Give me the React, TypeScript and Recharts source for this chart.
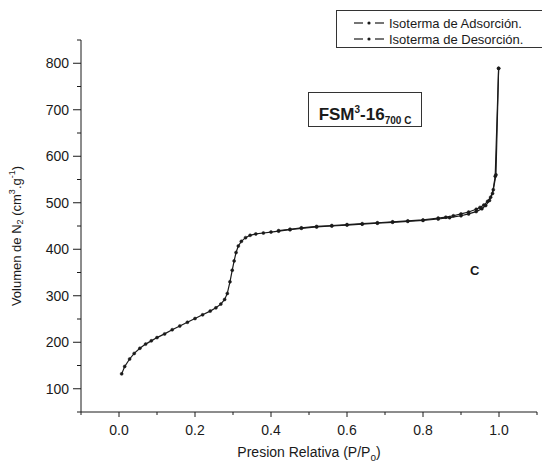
import { Label, Legend, Line, LineChart, XAxis, YAxis } from "recharts";

const adsorptionP = [
  0.007, 0.015, 0.028, 0.04, 0.055, 0.07, 0.085, 0.1, 0.12, 0.14, 0.16, 0.18,
  0.2, 0.22, 0.24, 0.255, 0.268, 0.278, 0.285, 0.292, 0.298, 0.303, 0.308,
  0.314, 0.322, 0.333, 0.345, 0.36, 0.38, 0.4, 0.42, 0.45, 0.48, 0.52, 0.56,
  0.6, 0.64, 0.68, 0.72, 0.76, 0.8, 0.84, 0.87, 0.9, 0.92, 0.94, 0.955, 0.965,
  0.975, 0.983, 0.99, 0.999,
];
const adsorptionV = [
  132, 148, 164, 176, 187, 196, 203, 210, 218, 227, 235, 243, 251, 259, 267,
  274, 282, 292, 305, 330, 355, 375, 393, 407, 417, 425, 430, 433, 435, 437,
  439, 442, 445, 448, 450, 452, 454, 456, 458, 460, 462, 465, 468, 472, 476,
  481, 487, 494, 505, 520, 557, 789,
];
const desorptionP = [
  0.999, 0.992, 0.985, 0.978, 0.97, 0.96, 0.95, 0.94, 0.92, 0.9, 0.88, 0.86,
  0.84, 0.8, 0.76, 0.72, 0.68, 0.64, 0.6, 0.56, 0.52, 0.48, 0.45, 0.42,
];
const desorptionV = [
  789, 560, 528, 512, 503, 495, 490, 486, 480, 476, 472, 469, 467, 463, 461,
  459, 457, 455, 453, 451, 449, 446, 443, 440,
];

const xTicks = [-0.1, 0, 0.1, 0.2, 0.3, 0.4, 0.5, 0.6, 0.7, 0.8, 0.9, 1.0, 1.1];
const xLabels = [0, 0.2, 0.4, 0.6, 0.8, 1.0];
const yTicks = [
  50, 100, 150, 200, 250, 300, 350, 400, 450, 500, 550, 600, 650, 700, 750,
  800, 850,
];
const yLabels = [100, 200, 300, 400, 500, 600, 700, 800];
const seriesNames = ["Isoterma de Adsorción.", "Isoterma de Desorción."];

const adsorption = adsorptionP.map((p, i) => ({ p, v: adsorptionV[i] }));
const desorption = desorptionP.map((p, i) => ({ p, v: desorptionV[i] }));

const FONT = '"Liberation Sans", Arial, sans-serif';
const INK = "#1a1a1a";

const XTick = (props: any) => {
  const { x, y, payload } = props;
  const major = xLabels.includes(payload.value);
  return (
    <g>
      <line x1={x} x2={x} y1={y} y2={y + (major ? 5 : 3)} stroke={INK} />
      {major && (
        <text x={x} y={y + 23} textAnchor="middle" fontSize={14} fill={INK} fontFamily={FONT}>
          {payload.value.toFixed(1)}
        </text>
      )}
    </g>
  );
};

const YTick = (props: any) => {
  const { x, y, payload } = props;
  const major = yLabels.includes(payload.value);
  return (
    <g>
      <line x1={x} x2={x - (major ? 8 : 4)} y1={y} y2={y} stroke={INK} />
      {major && (
        <text x={x - 12} y={y + 5} textAnchor="end" fontSize={14} fill={INK} fontFamily={FONT}>
          {payload.value}
        </text>
      )}
    </g>
  );
};

const renderLegend = () => (
  <div
    style={{
      border: "1px solid #333",
      background: "#fff",
      width: 210,
      height: 38,
      boxSizing: "border-box",
      padding: "4px 0 0 16px",
      fontFamily: FONT,
      fontSize: 13,
      color: INK,
    }}
  >
    {seriesNames.map((name) => (
      <div key={name} style={{ display: "flex", alignItems: "center", height: 16 }}>
        <svg width={36} height={10}>
          <line x1={1} x2={10} y1={5} y2={5} stroke={INK} strokeWidth={1.2} />
          <circle cx={16} cy={5} r={1.6} fill={INK} />
          <line x1={22} x2={31} y1={5} y2={5} stroke={INK} strokeWidth={1.2} />
        </svg>
        <span>{name}</span>
      </div>
    ))}
  </div>
);

export default function App() {
  return (
    <div style={{ position: "absolute", left: 0, top: 0, width: 542, height: 463, background: "#fff" }}>
      <LineChart width={542} height={463} margin={{ top: 40, right: 5, bottom: 0, left: 0 }}>
        <XAxis
          type="number"
          dataKey="p"
          domain={[-0.1, 1.1]}
          ticks={xTicks}
          interval={0}
          tickSize={0}
          tickMargin={0}
          tickLine={false}
          tick={<XTick />}
          height={51}
          stroke={INK}
          allowDataOverflow
        >
          <Label
            content={() => (
              <text x={309} y={457} textAnchor="middle" fontSize={14} fill={INK} fontFamily={FONT}>
                Presion Relativa (P/P
                <tspan fontSize={10} dy={4}>o</tspan>
                <tspan dy={-4}>)</tspan>
              </text>
            )}
          />
        </XAxis>
        <YAxis
          type="number"
          domain={[50, 850]}
          ticks={yTicks}
          interval={0}
          tickSize={0}
          tickMargin={0}
          tickLine={false}
          tick={<YTick />}
          width={81}
          stroke={INK}
          allowDataOverflow
        >
          <Label
            content={() => (
              <text
                x={18}
                y={236}
                transform="rotate(-90 18 236)"
                textAnchor="middle"
                dominantBaseline="middle"
                fontSize={13}
                fill={INK}
                fontFamily={FONT}
              >
                Volumen de N
                <tspan fontSize={9} dy={3}>2</tspan>
                <tspan dy={-3}> (cm</tspan>
                <tspan fontSize={9} dy={-5}>3</tspan>
                <tspan dy={5}>.g</tspan>
                <tspan fontSize={9} dy={-5}>-1</tspan>
                <tspan dy={5}>)</tspan>
              </text>
            )}
          />
        </YAxis>
        <Legend
          layout="vertical"
          align="center"
          verticalAlign="middle"
          content={renderLegend}
          wrapperStyle={{ left: 336, top: 10, width: 210, height: 38 }}
        />
        <Line
          data={adsorption}
          dataKey="v"
          name={seriesNames[0]}
          type="linear"
          stroke={INK}
          strokeWidth={1.2}
          dot={{ r: 1.5, fill: INK, stroke: INK, strokeWidth: 0.5 }}
          isAnimationActive={false}
        />
        <Line
          data={desorption}
          dataKey="v"
          name={seriesNames[1]}
          type="linear"
          stroke={INK}
          strokeWidth={1.2}
          dot={{ r: 1.5, fill: INK, stroke: INK, strokeWidth: 0.5 }}
          isAnimationActive={false}
        />
      </LineChart>
      <div
        style={{
          position: "absolute",
          left: 308,
          top: 92,
          width: 114,
          height: 35,
          border: "1px solid #333",
          boxSizing: "border-box",
          background: "#fff",
          fontFamily: FONT,
          fontSize: 17,
          fontWeight: "bold",
          color: INK,
          lineHeight: "33px",
          textAlign: "center",
        }}
      >
        FSM<sup style={{ fontSize: 10 }}>3</sup>-16<sub style={{ fontSize: 10 }}>700 C</sub>
      </div>
      <div
        style={{
          position: "absolute",
          left: 470,
          top: 263,
          fontFamily: FONT,
          fontSize: 13,
          fontWeight: "bold",
          color: INK,
        }}
      >
        C
      </div>
    </div>
  );
}
